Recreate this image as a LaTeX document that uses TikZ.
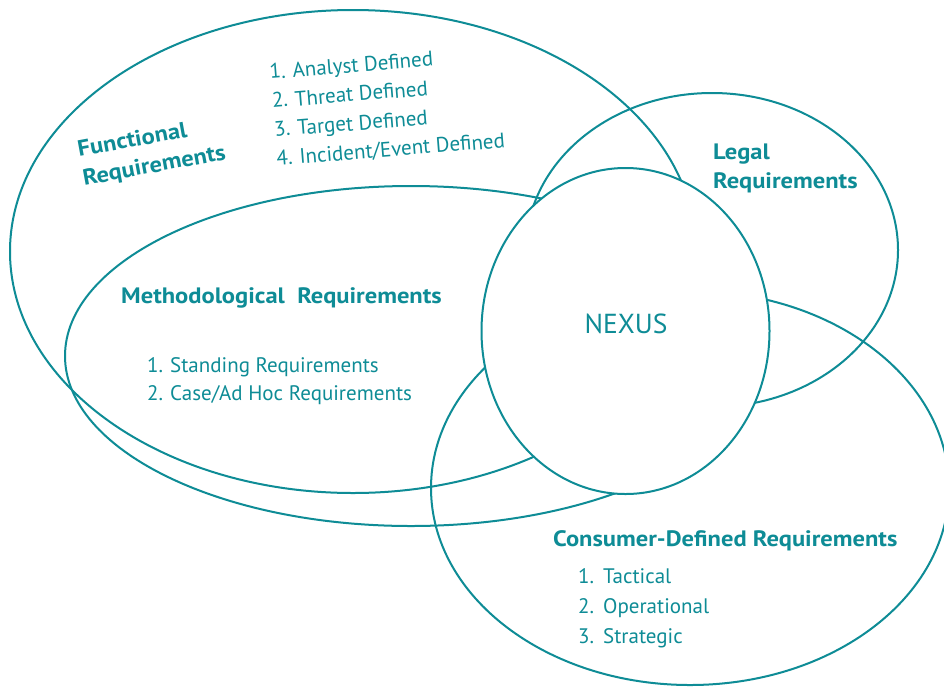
\documentclass[tikz,border=0pt]{standalone}
\usepackage{fontspec}
\setmainfont{PT Sans}
\newfontfamily\headfont{PT Sans}[FakeStretch=1.1]
\usetikzlibrary{shapes.geometric}
\definecolor{teal}{HTML}{0E8C96}
\tikzset{
  venn/.style={ellipse, draw=teal, line width=2pt, inner sep=0pt, outer sep=0pt},
  head/.style={anchor=base west, inner sep=0pt, text=teal, font=\headfont\bfseries\fontsize{22.3}{29}\selectfont},
  item/.style={anchor=base west, inner sep=0pt, text=teal, font=\fontsize{21}{29}\selectfont},
}
\newcommand{\num}[2][23pt]{\makebox[#1][l]{#2}}
\begin{document}
\begin{tikzpicture}[x=1pt,y=-1pt]
\clip (0,0) rectangle (944,686);
\fill[white] (0,0) rectangle (944,686);
% sets
\node[venn, minimum width=686pt, minimum height=483pt] (functional) at (353,251.5) {};
\node[venn, minimum width=692pt, minimum height=340pt] (method) at (411,356) {};
\node[venn, minimum width=372pt, minimum height=314pt] (legal) at (712,250) {};
\node[venn, minimum width=518pt, minimum height=394pt] (consumer) at (690,488) {};
\node[venn, fill=white, minimum width=288pt, minimum height=326pt] (nexus) at (625.5,331) {};
% labels
\node[anchor=base, inner sep=0pt, text=teal, font=\fontsize{27.5}{32}\selectfont] (nexuslabel) at (626,333) {NEXUS};
\node[head, rotate=10.5] (funhead) at (79,157) {\begin{tabular}[t]{@{}l@{}}Functional\\Requirements\end{tabular}};
\node[item, rotate=4.6] (funlist) at (270,79) {\begin{tabular}[t]{@{}l@{}}\num{1.}Analyst Defined\\\num{2.}Threat Defined\\\num{3.}Target Defined\\\num{4.}Incident/Event Defined\end{tabular}};
\node[head] (leghead) at (713,159) {\begin{tabular}[t]{@{}l@{}}Legal\\Requirements\end{tabular}};
\node[head] (meth) at (121,303) {Methodological\ \ Requirements};
\node[item] (m1) at (147,372) {\num{1.}Standing Requirements};
\node[item] (m2) at (147,400) {\num{2.}Case/Ad Hoc Requirements};
\node[head] (cons) at (553,546) {Consumer-Defined Requirements};
\node[item] (c1) at (578,583) {\num[25pt]{1.}Tactical};
\node[item] (c2) at (578,613) {\num[25pt]{2.}Operational};
\node[item] (c3) at (578,643) {\num[25pt]{3.}Strategic};
\end{tikzpicture}
\end{document}
